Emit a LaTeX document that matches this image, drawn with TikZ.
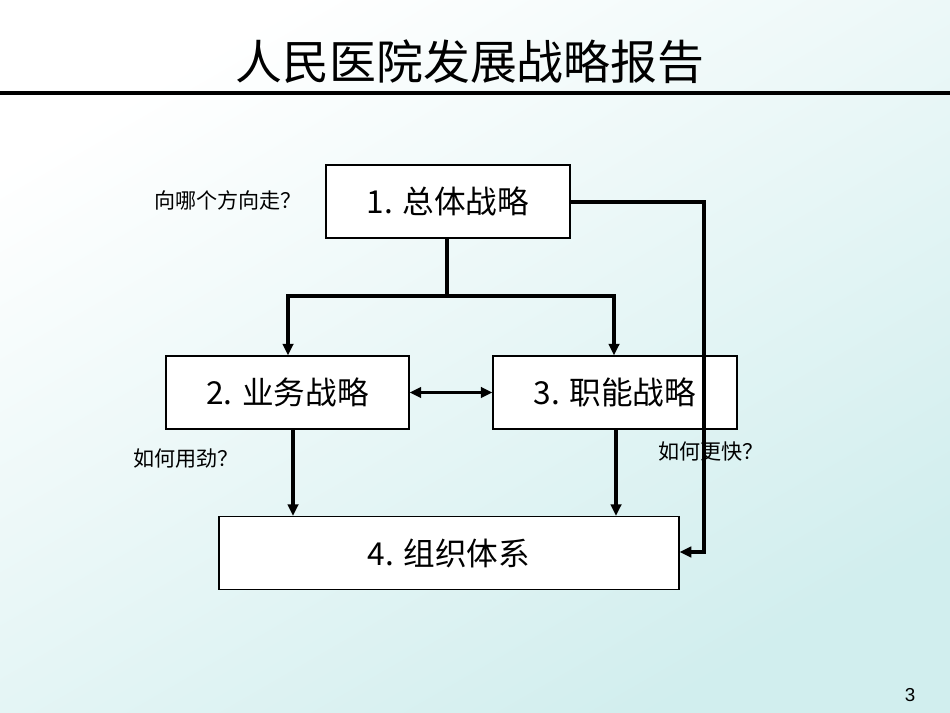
\documentclass[tikz,border=0pt]{standalone}
\usepackage{fontspec}
\setmainfont{Liberation Sans}
\newfontfamily\cjk{Noto Sans CJK SC}
\usetikzlibrary{arrows.meta}
\begin{document}
\begin{tikzpicture}[x=0.03cm,y=-0.03cm,
  box/.style={draw,line width=0.9pt,fill=white,minimum width=#1*0.03cm,minimum height=73*0.03cm,font=\cjk\fontsize{27}{30}\selectfont},
  tip/.style={Triangle[length=10pt,width=9pt]},
  conn/.style={line width=3.2pt,-{Triangle[length=10pt,width=9pt]}},
  lbl/.style={font=\cjk\fontsize{18}{22}\selectfont}]
\useasboundingbox (0,0) rectangle (950,713);
\shade[shading=axis,top color=white,bottom color=cyan!25!teal!18!white,shading angle=30] (0,0) rectangle (950,713);
\node[font=\cjk\fontsize{40}{46}\selectfont] (title) at (470,62) {人民医院发展战略报告};
\draw[line width=3pt] (0,93) -- (950,93);
\node[box=244] (b1) at (448,201.5) {1. 总体战略};
\node[box=243] (b2) at (287.5,392.5) {2. 业务战略};
\node[box=244] (b3) at (615,392.5) {3. 职能战略};
\node[box=460] (b4) at (449,553) {4. 组织体系};
\coordinate (j) at (447,296);
\draw[line width=3.2pt] (b1.south -| j) -- (j);
\draw[conn] (j) -| (b2.north -| 288,0);
\draw[conn] (j) -| (b3.north -| 614,0);
\draw[line width=3.2pt,{Triangle[length=10pt,width=9pt]}-{Triangle[length=10pt,width=9pt]}] (b2.east) -- (b3.west);
\draw[conn] (b2.south -| 293,0) -- (b4.north -| 293,0);
\draw[conn] (b3.south -| 616,0) -- (b4.north -| 616,0);
\coordinate (r) at (704,202);
\draw[conn] (b1.east |- r) -- (r) |- (b4.east |- 0,552);
\node[lbl] (l1) at (228,200) {向哪个方向走？};
\node[lbl] (l2) at (186,459) {如何用劲？};
\node[lbl] (l3) at (711,452) {如何更快？};
\node[font=\fontsize{16}{18}\selectfont] (pg) at (910,695) {3};
\end{tikzpicture}
\end{document}
